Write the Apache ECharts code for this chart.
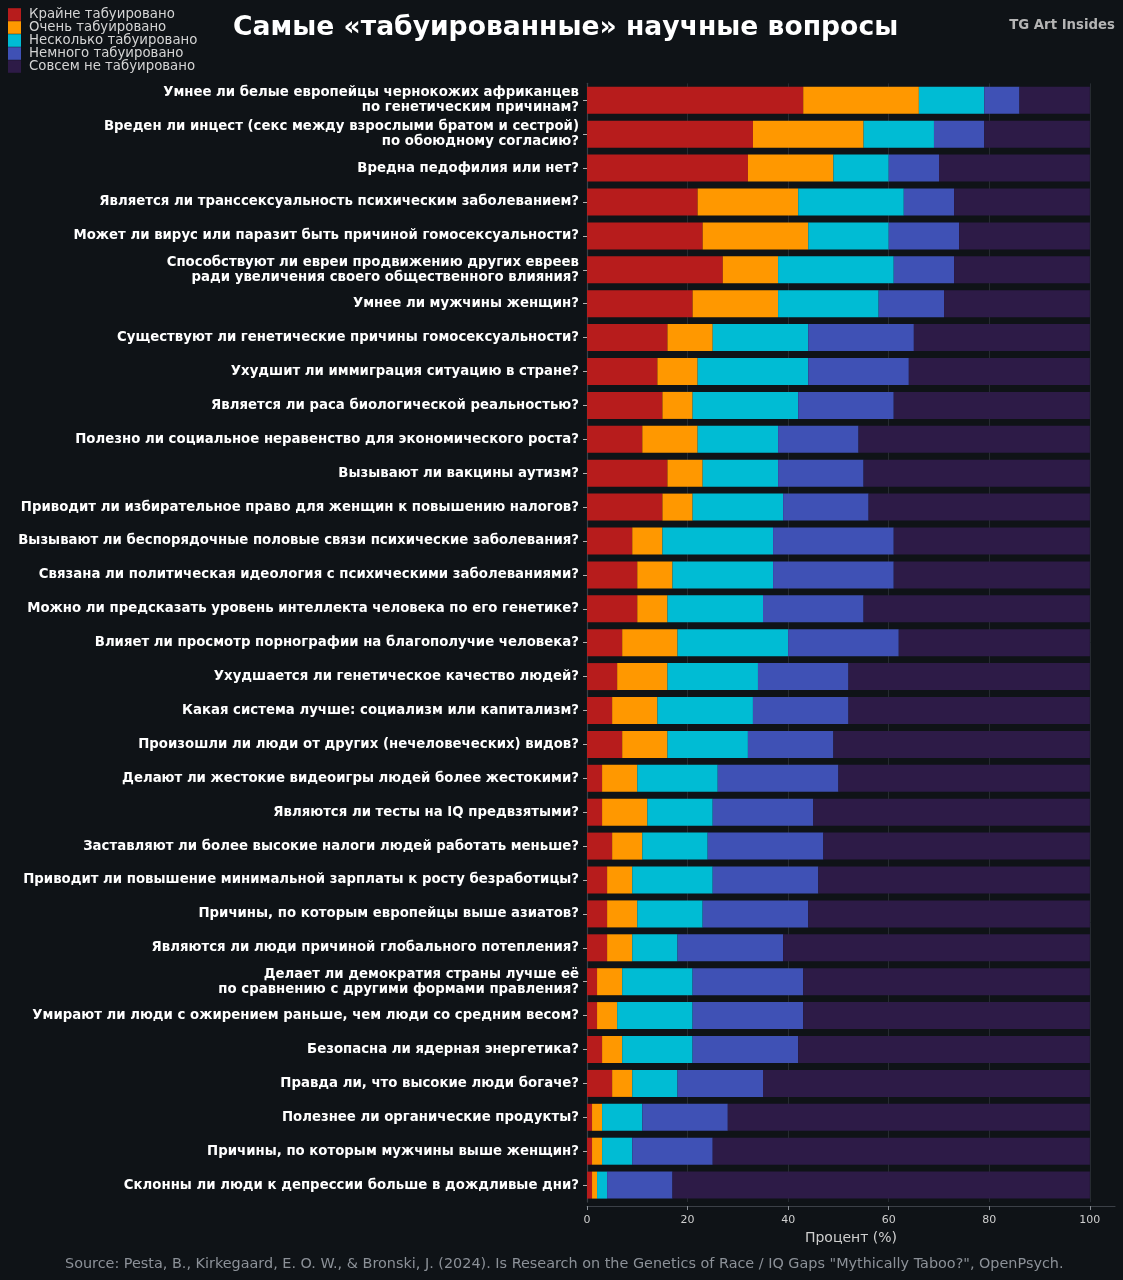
<!DOCTYPE html>
<html>
<head>
<meta charset="utf-8">
<script src="https://cdn.jsdelivr.net/npm/echarts@6/dist/echarts.min.js"></script>
<style>
  html, body { margin: 0; padding: 0; background: #0f1317; }
  #chart { width: 1123px; height: 1280px; }
</style>
</head>
<body>
<div id="chart"></div>
<script>
const categories = [
  "Умнее ли белые европейцы чернокожих африканцев\nпо генетическим причинам?",
  "Вреден ли инцест (секс между взрослыми братом и сестрой)\nпо обоюдному согласию?",
  "Вредна педофилия или нет?",
  "Является ли транссексуальность психическим заболеванием?",
  "Может ли вирус или паразит быть причиной гомосексуальности?",
  "Способствуют ли евреи продвижению других евреев\nради увеличения своего общественного влияния?",
  "Умнее ли мужчины женщин?",
  "Существуют ли генетические причины гомосексуальности?",
  "Ухудшит ли иммиграция ситуацию в стране?",
  "Является ли раса биологической реальностью?",
  "Полезно ли социальное неравенство для экономического роста?",
  "Вызывают ли вакцины аутизм?",
  "Приводит ли избирательное право для женщин к повышению налогов?",
  "Вызывают ли беспорядочные половые связи психические заболевания?",
  "Связана ли политическая идеология с психическими заболеваниями?",
  "Можно ли предсказать уровень интеллекта человека по его генетике?",
  "Влияет ли просмотр порнографии на благополучие человека?",
  "Ухудшается ли генетическое качество людей?",
  "Какая система лучше: социализм или капитализм?",
  "Произошли ли люди от других (нечеловеческих) видов?",
  "Делают ли жестокие видеоигры людей более жестокими?",
  "Являются ли тесты на IQ предвзятыми?",
  "Заставляют ли более высокие налоги людей работать меньше?",
  "Приводит ли повышение минимальной зарплаты к росту безработицы?",
  "Причины, по которым европейцы выше азиатов?",
  "Являются ли люди причиной глобального потепления?",
  "Делает ли демократия страны лучше её\nпо сравнению с другими формами правления?",
  "Умирают ли люди с ожирением раньше, чем люди со средним весом?",
  "Безопасна ли ядерная энергетика?",
  "Правда ли, что высокие люди богаче?",
  "Полезнее ли органические продукты?",
  "Причины, по которым мужчины выше женщин?",
  "Склонны ли люди к депрессии больше в дождливые дни?"
];

const seriesNames = [
  "Крайне табуировано",
  "Очень табуировано",
  "Несколько табуировано",
  "Немного табуировано",
  "Совсем не табуировано"
];

const extremelyTaboo = [43,33,32,22,23,27,21,16,14,15,11,16,15,9,10,10,7,6,5,7,3,3,5,4,4,4,2,2,3,5,1,1,1];
const veryTaboo      = [23,22,17,20,21,11,17,9,8,6,11,7,6,6,7,6,11,10,9,9,7,9,6,5,6,5,5,4,4,4,2,2,1];
const somewhatTaboo  = [13,14,11,21,16,23,20,19,22,21,16,15,18,22,20,19,22,18,19,16,16,13,13,16,13,9,14,15,14,9,8,6,2];
const slightlyTaboo  = [7,10,10,10,14,12,13,21,20,19,16,17,17,24,24,20,22,18,19,17,24,20,23,21,21,21,22,22,21,17,17,16,13];
const notTaboo       = [14,21,30,27,26,27,29,35,36,39,46,45,44,39,39,45,38,48,48,51,50,55,53,54,56,61,57,57,58,65,72,75,83];

const xTicks = [0, 20, 40, 60, 80, 100];

const colors = ["#b71c1c", "#ff9800", "#00bcd4", "#3f51b5", "#2d1b47"];
const valueArrays = [extremelyTaboo, veryTaboo, somewhatTaboo, slightlyTaboo, notTaboo];

const FONT = "DejaVu Sans";

const chart = echarts.init(document.getElementById("chart"), null, { renderer: "canvas" });

const option = {
  backgroundColor: "#0f1317",
  animation: false,
  textStyle: { fontFamily: FONT },
  title: [
    {
      text: "Самые «табуированные» научные вопросы",
      left: 233, top: 15, padding: 0,
      textStyle: { color: "#ffffff", fontSize: 26.6, fontWeight: "bold", fontFamily: FONT }
    },
    {
      text: "TG Art Insides",
      right: 8, top: 19, padding: 0,
      textStyle: { color: "#b4b4b4", fontSize: 13.3, fontWeight: "bold", fontFamily: FONT }
    },
    {
      text: 'Source: Pesta, B., Kirkegaard, E. O. W., & Bronski, J. (2024). Is Research on the Genetics of Race / IQ Gaps "Mythically Taboo?", OpenPsych.',
      left: 65, top: 1257, padding: 0,
      textStyle: { color: "#8c9198", fontSize: 14.4, fontWeight: "normal", fontFamily: FONT }
    }
  ],
  legend: {
    orient: "vertical",
    left: 8, top: 8, padding: 0,
    itemWidth: 13, itemHeight: 12.6, itemGap: 0,
    icon: "rect",
    selectedMode: false,
    data: seriesNames,
    textStyle: { color: "#d4d4d4", fontSize: 13.3, lineHeight: 12.6, fontFamily: FONT, padding: [0, 0, 0, 3] }
  },
  grid: {
    left: 587, right: 8, top: 83.35, bottom: 77.95,
    containLabel: false
  },
  xAxis: {
    type: "value",
    min: 0, max: 105, interval: 20,
    offset: 4,
    name: "Процент (%)",
    nameLocation: "middle",
    nameGap: 24,
    nameTextStyle: { color: "#cfcfcf", fontSize: 14, fontFamily: FONT },
    axisLine: { show: true, lineStyle: { color: "#3b4047", width: 1.2 } },
    axisTick: { show: true, length: 4, customValues: xTicks, lineStyle: { color: "#8a8f96" } },
    axisLabel: { color: "#cfcfcf", fontSize: 11, margin: 9, customValues: xTicks, fontFamily: FONT },
    splitLine: { show: true, lineStyle: { color: "#262b31", width: 1 } }
  },
  yAxis: {
    type: "category",
    data: categories,
    inverse: true,
    axisLine: { show: true, lineStyle: { color: "#3b4047", width: 1.2 } },
    axisTick: { show: true, alignWithLabel: true, length: 4, lineStyle: { color: "#b0b0b0" } },
    axisLabel: {
      interval: 0, margin: 8, color: "#ffffff", fontSize: 13.3, fontWeight: "bold",
      lineHeight: 15, fontFamily: FONT, align: "right", padding: [5, 0, 0, 0]
    },
    splitLine: { show: false }
  },
  series: seriesNames.map((name, i) => ({
    name: name,
    type: "bar",
    stack: "total",
    barWidth: 27,
    itemStyle: { color: colors[i] },
    emphasis: { disabled: true },
    data: valueArrays[i]
  }))
};

chart.setOption(option);
</script>
</body>
</html>
